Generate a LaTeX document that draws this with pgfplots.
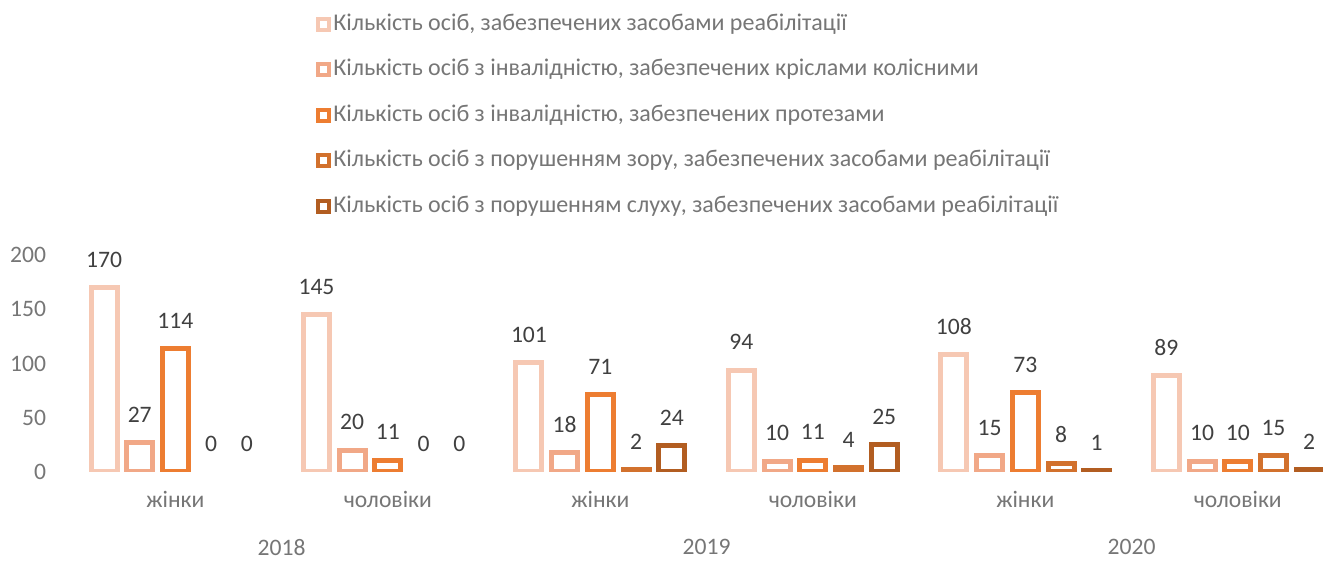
\documentclass[border=0pt]{standalone}
\usepackage{fontspec}
\setmainfont{Carlito}
\usepackage{pgfplots}
\pgfplotsset{compat=1.18}
\definecolor{serA}{HTML}{F6C8B3}
\definecolor{serB}{HTML}{F1A887}
\definecolor{serC}{HTML}{ED7D31}
\definecolor{serD}{HTML}{D2712D}
\definecolor{serE}{HTML}{B25D21}
\definecolor{tickgray}{HTML}{767676}
\definecolor{valgray}{HTML}{404040}

\newcommand{\chartfont}{\fontsize{11.8}{14}\selectfont}
\newcommand{\legendfont}{\fontsize{12}{14}\selectfont}

\begin{document}
\begin{tikzpicture}
\useasboundingbox (0,0) rectangle (661.5pt,280.5pt);
\begin{axis}[
  at={(34.6pt,44.5pt)}, anchor=south west,
  scale only axis, width=637.4pt, height=108.5pt,
  ybar=4.85pt, bar width=13pt,
  xmin=-0.5, xmax=5.5, ymin=0, ymax=200,
  ytick={0,50,...,200},
  xtick={0,...,5},
  xticklabels={жінки,чоловіки,жінки,чоловіки,жінки,чоловіки},
  extra x ticks={0.5,2.5,4.5},
  extra x tick labels={2018,2019,2020},
  extra x tick style={xticklabel style={yshift=-24pt}},
  axis line style={draw=none},
  major tick length=0pt,
  tick label style={font=\chartfont, text=tickgray},
  /pgf/number format/assume math mode=true,
  yticklabel style={xshift=-8pt},
  xticklabel style={yshift=-6pt},
  every axis plot/.append style={line width=2.5pt, fill=white},
  nodes near coords,
  every node near coord/.append style={font=\chartfont, text=valgray, yshift=5.5pt},
  legend style={at={(axis description cs:0.1936,2.125)}, anchor=north west,
    draw=none, fill=none, inner sep=0pt, row sep=9.75pt,
    font=\legendfont, text=tickgray,
    nodes={inner sep=1pt, text height=8.5pt, text depth=2.5pt}},
  legend cell align=left,
  legend image code/.code={\draw[#1, line width=2pt, fill=white] (0pt,-2.75pt) rectangle (5.5pt,2.75pt);},
]
\addplot[draw=serA, bar shift=-35.7pt] coordinates {(0,170) (1,145) (2,101) (3,94) (4,108) (5,89)};
\addlegendentry{Кількість осіб, забезпечених засобами реабілітації}
\addplot[draw=serB, bar shift=-17.85pt] coordinates {(0,27) (1,20) (2,18) (3,10) (4,15) (5,10)};
\addlegendentry{Кількість осіб з інвалідністю, забезпечених кріслами колісними}
\addplot[draw=serC, bar shift=0pt] coordinates {(0,114) (1,11) (2,71) (3,11) (4,73) (5,10)};
\addlegendentry{Кількість осіб з інвалідністю, забезпечених протезами}
\addplot[draw=serD, bar shift=17.85pt] coordinates {(2,2) (3,4) (4,8) (5,15)};
\addlegendentry{Кількість осіб з порушенням зору, забезпечених засобами реабілітації}
\addplot[draw=serE, bar shift=35.7pt] coordinates {(2,24) (3,25) (4,1) (5,2)};
\addlegendentry{Кількість осіб з порушенням слуху, забезпечених засобами реабілітації}
% zero values: labels only, no visible bar
\addplot[draw=none, fill=none, bar shift=17.85pt, forget plot] coordinates {(0,0) (1,0)};
\addplot[draw=none, fill=none, bar shift=35.7pt, forget plot] coordinates {(0,0) (1,0)};
\end{axis}
\end{tikzpicture}
\end{document}
